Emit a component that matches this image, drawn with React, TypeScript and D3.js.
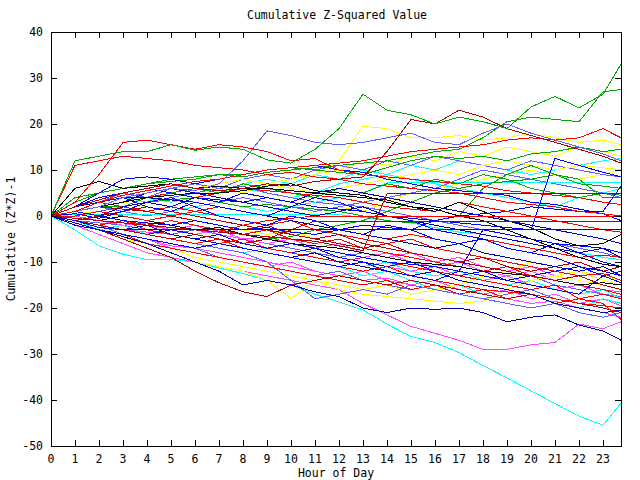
import React from "react";
import * as d3 from "d3";

// Time grid (hour of day)
const HOURS = [0, 1, 2, 3, 4, 5, 6, 7, 8, 9, 10, 11, 12, 13, 14, 15, 16, 17, 18, 19, 20, 21, 22, 23, 23.75];
const X_TICKS = [0, 1, 2, 3, 4, 5, 6, 7, 8, 9, 10, 11, 12, 13, 14, 15, 16, 17, 18, 19, 20, 21, 22, 23];
const Y_TICKS = [40, 30, 20, 10, 0, -10, -20, -30, -40, -50];

const TITLE = "Cumulative Z-Squared Value";
const X_LABEL = "Hour of Day";
const Y_LABEL = "Cumulative (Z*Z)-1";

// Series values (cumulative z^2-1) read at each hour
const g1 = [0, 12, 13, 14, 14, 15.5, 14.3, 15, 14.5, 12.2, 11.5, 14.5, 19, 26.5, 23, 22, 20, 21.5, 20.5, 19, 23.7, 26, 23.5, 26.5, 33];
const g2 = [0, 4, 5, 6, 7, 7.5, 8, 9, 8.5, 9.5, 10, 10.5, 11, 11.5, 12, 13, 14, 14.5, 17, 20.5, 21.5, 21, 20.5, 27, 27.5];
const r1 = [0, 3, 9, 16, 16.5, 15.5, 14.5, 15.5, 15, 14, 12, 12.5, 10, 9, 8.5, 8, 7.5, 7, 6.5, 5.5, 5, 4.5, 4, 3, 2.5];
const r3 = [0, 11, 12, 13, 12.5, 12, 11, 10.5, 10, 9, 9.5, 8.5, 8, 7, 6.5, 6, 5.5, 5, 4, 3, 2.5, 2, 1, 0.5, 0];
const r2 = [0, 1, 3, 4.5, 5.5, 6.5, 7.5, 8, 9, 10, 10.5, 11, 11.5, 12, 13, 14, 14.5, 15, 15.5, 16.5, 17, 16.5, 17, 19, 17];
const dr1 = [0, 2, 3.5, 5, 6, 7, 6, 5.5, 6, 7, 6.5, 7.5, 8, 8.5, 14, 21, 20, 23, 21.5, 19, 17.5, 16, 14.5, 13, 11.5];
const lb1 = [0, 1, 2, 4, 5, 6, 5.5, 7, 12, 18.5, 17.5, 16, 15.5, 16, 17, 18, 16, 15.5, 18, 20, 18, 16.5, 15, 13.5, 12];
const g3 = [0, 3, 5, 6, 7, 8, 8.5, 9, 9, 10, 10.5, 10, 9.5, 9, 10.5, 12, 13, 12.5, 13, 12, 13.5, 14, 15, 14, 14.5];
const g4 = [0, 1, 2, 2, 3, 3.5, 4, 3, 2, 2.5, 2, 1.5, 1, 0, -1, -1.5, -1, 0, 6, 9, 11, 9, 8, 4, 4];
const g5 = [0, -0.5, -1, -1.5, -2, -2.5, -3, -3.5, -4, -5, -4.5, -3, -2, -1, 1, 3, 5, 6, 7, 7.5, 8, 9, 7, 6.5, 6];
const g6 = [0, 2, 3, 2, 4, 5, 6, 5, 7, 6, 5, 4, 6, 5, 7, 6, 8, 7, 9, 8, 6, 5, 4, 5, 4.5];
const k1 = [0, 6, 7.5, 6, 6.5, 7, 6, 6.5, 6, 6, 5.5, 5, 4.5, 4, 3.5, 2, 1.5, 0, -1, -3, -5, -7, -9, -10.5, -11];
const k2 = [0, 1, 2, 3, 4, 4.5, 5, 5, 5.5, 6.5, 7, 5.5, 5, 4.5, 3, 2, 1, 3, 1, -1, -2.5, -5, -6.5, -6, -4];
const k3 = [0, -0.5, -1, 0, -1, -2, -3, -2.5, -4, -5, -6, -6.5, -7, -8, -9, -10, -10.5, -11, -12, -12.5, -13, -14, -15, -14.5, -15];
const b1 = [0, 2, 4, 5, 6, 5, 4, 3.5, 3, 4, 3, 2, 1.5, 1, 0, -0.5, -1, -1.5, -2, -2.5, -3, 12.5, 11, 9.5, 8.5];
const b2 = [0, -1, -2.5, -3, -3, -3, -3, -3, -3, -3, -3, -3, -3, -3, -3, -3, -3, -3, -3, -3, -3, -3, -3, -3, -3];
const b3 = [0, 2, 5, 8, 8.5, 8, 7, 8, 9, 10, 10.5, 11, 10, 9.5, 8, 7, 6, 5.5, 5, 4.5, 3, 2.5, 1.5, 0.5, -1];
const b4 = [0, -1, -2, -3, -4, -3, -4, -5, -6, -7, -6, -7, -8, -9, -10, -10.5, -11, -12, -3, -4, -5, -6, -6.5, -7, -8];
const b5 = [0, 1, 0, -1, -1.5, -2, -1, -2, -3, -2.5, -3.5, -4, -3, -2, -2.5, -3, -1, 0, 0.5, 1, 2, 1.5, 1, 1, 6.5];
const b6 = [0, -2, -3, -4, -5, -6, -7, -6, -7, -8, -9, -10, -11, -10, -12, -13, -14, -12, -13, -14, -15, -16, -17, -13, -14.5];
const b7 = [0, 1, 3, 4, 2, 1, 3, 2, 1, 0, 2, 4, 3, 1, 0, -1, -3, -4, -5, -7, -8, -9, -11, -12, -13];
const b8 = [0, 0.5, -0.5, 1, 3, 4, 2, 0, -1, -2, 0, -1, -3, -4, -2, -3, -5, -6, -5, -7, -8, -6, -8, -10, -11];
const b9 = [0, -1, -2, -1, -3, -4, -5, -4, -6, -7, -8, -7, -9, -10, -11, -10, -12, -13, -12, -14, -13, -12, -11, -13, -12];
const d1 = [0, -1.5, -3, -4.5, -6, -8, -10, -12, -15, -14, -15, -16.5, -17.5, -20, -21, -20, -20.3, -20, -21, -23, -22, -21.5, -23.7, -25, -27];
const d2 = [0, 1, 2, 3, 5, 6, 5, 4, 3, 2, 1, 0, 1, 2, 0, -1, -2, -3, -4, -5, -6, -7, -8, -7, -9];
const d3s = [0, -1, -2, -3, -2, -4, -5, -6, -7, -8, -9, -8, -10, -11, -12, -13, -12, -14, -15, -16, -17, -19, -20, -21, -20.5];
const d4 = [0, 2, 3, 4, 4, 3.5, 3, 2, 1, 0, -1, -2, -3, -4, -5, -6, -7, -6, -8, -9, -10, -11, -12, -11, -13];
const d5 = [0, 1, 0, 2, 3, 2, 4, 3, 5, 4, 3, 5, 6, 5, 4, 3, 2, 1, 0, -1, -2, -3, -4, -5, -6];
const lb2 = [0, -1, -2, -3, -4, -5, -6, -7, -8, -10, -14, -18, -17, -16, -17, -15, -16, -17, -18, -17, -16, -18, -19, -20, -21];
const lb3 = [0, 1, 2, 1, 0, 1, 2, 3, 4, 3, 2, 1, 2, 3, 4, 5, 6, 8, 10, 9, 8, 7, 6, 5, 4];
const lb4 = [0, -1, -1.5, -2, -3, -4, -3, -4, -5, -6, -7, -8, -9, -8, -9, -10, -11, -12, -13, -14, -13, -15, -16, -17, -17.5];
const lb5 = [0, 0, 1, 2, 3, 4, 5, 6, 6.5, 5, 4, 3, 2.5, 2, 1, 0, -1, -2, -3, -4, -5, -6, -7, -8, -9];
const lb6 = [0, 2, 3, 5, 4, 6, 7, 6, 8, 9, 8, 10, 11, 10, 12, 11, 13, 12, 11, 10, 12, 11, 10, 9, 8.5];
const lb7 = [0, -1, -2, -4, -5, -6, -7, -9, -10, -11, -12, -13, -12, -14, -15, -16, -15, -17, -18, -19, -20, -19, -21, -22, -21];
const rf = [0, -0.5, -1, -1.5, -2, -2.5, -3, -3.5, -2, -1, -0.5, 0, 0, 0, 0, 0, 0, 0, 0, 0, 0, 0, 0, 0, 0];
const r4 = [0, -1, -2, -3, -4, -5, -6, -5, -7, -8, -9, -10, -11, -12, -11, -13, -14, -15, -16, -16.5, -17, -18, -19, -19.5, -20];
const r5 = [0, 1, 0, -1, -2, -1, -2, -3, -4, -3, -5, -6, -5, -7, -8, -9, -10, -11, -12, -11, -13, -14, -15, -16, -17];
const r6 = [0, 2, 3, 2, 1, 2, 1, 0, -1, -2, -1, -3, -4, -5, -6, -5, -7, -8, -9, -10, -11, -12, -13, -12.5, -14];
const r7 = [0, -1, -2, -1, -3, -4, -5, -6, -5, -7, -8, -9, -10, -9, -10, -11, -12, -13, -14, -15, -16, -15, -18, -19, -22.5];
const r8 = [0, 1, 2, 3, 4, 5, 4, 5, 6, 5.5, 5, 4.5, 4, 3, 2, 1.5, 1, 3, 2, 1, 0, -1, -2, -3, -3.5];
const r9 = [0, 0, 1, 0, -1, 0, 1, 2, 1, 0, -1, -2, -3, -4, -5, -4, -5, -6, -5, -6, -7, -8, -9, -8.5, -9];
const r10 = [0, -2, -3, -4, -6, -7, -8, -9, -10, -11, -12, -13, -14, -15, -14, -16, -15, -17, -16, -18, -17, -19, -18, -17, -18];
const drf1 = [0, -1, -2, -3, -4, -5, -4, -5, -6, -5, -3, -1.1, -1.1, -1.1, -1.1, -1.1, -1.1, -1.1, -1.1, -1.1, -1.1, -1.1, -1.1, -1.1, -1.1];
const drf2 = [0, -0.5, -1, -1.5, -2, -2.5, -3, -3.5, -4, -4.5, -5, -5.5, -6.5, -7.5, 4.8, 4.8, 4.8, 4.8, 4.8, 4.8, 4.8, 4.8, 4.8, 4.8, 4.8];
const dr2 = [0, -1.5, -3, -5, -7, -9, -12, -14.5, -16.5, -17.5, -15, -14, -13, -14, -15, -14, -15, -16, -17, -18, -17, -18, -19, -20, -21];
const dr3 = [0, 1, 2, 1.5, 1, 0, -1, -2, -3, -2, -4, -5, -6, -7, -6, -8, -9, -10, -11, -12, -13, -14, -13, -15, -16];
const dr4 = [0, -1, 0, 1, 2, 1, 0, -1, -2, -3, -4, -5, -4, -6, -7, -8, -9, -10, -9, -11, -12, -11, -10, -12, -11];
const y1 = [0, 1, 2, 3, 4, 5, 6, 5, 6, 7, 8, 9, 12, 19.5, 19, 17, 17, 17.5, 16.5, 17, 18, 17, 16, 16.5, 15.5];
const y2 = [0, 2, 4, 5, 6, 7, 6, 7, 8, 7, 6, 5, 6, 7, 8, 9, 10, 9, 11, 12, 11, 10, 11, 10.5, 10];
const y3 = [0, -1.5, -3, -4.5, -6, -8, -10, -11, -12, -14, -18, -14, -16, -17, -17.5, -18, -18.5, -19, -18.5, -16, -14, -13, -14, -15, -16];
const y4 = [0, 0.5, 1, 0, -1, -2, -1, -2, -3, -4, -3, -5, -6, -7, -6, -8, -9, -10, -11, -12, -10, -11, -12, -13, -14];
const y5 = [0, 1, 2, 3, 2, 1, 0, -1, -2, -1, 0, 1, 2, 1, 3, 5, 6, 7, 8, 9, 10, 9, 8, 9, 10];
const y6 = [0, 1, 3, 2, 4, 5, 4, 6, 5, 7, 8, 9, 10, 12, 11, 13, 12, 14, 13, 15, 14, 13, 15, 14, 13];
const y7 = [0, -2, -3, -5, -6, -7, -9, -10, -11, -12, -13, -14, -15, -16, -15, -17, -16, -15, -13, -12, -14, -13, -12, -14, -15];
const c1 = [0, -3, -6.5, -8.3, -9.5, -9.5, -10, -11.3, -12.5, -14, -15, -17, -18.7, -20.4, -23.5, -26.2, -27.5, -29.7, -32.5, -35.2, -38, -40.8, -43.5, -45.5, -40.7];
const cf = [0, 0.3, 0.3, 0.3, 0.3, 0.3, 0.3, 0.3, 0.3, 0.3, 0.3, 0.3, 0.3, -0.3, -1, -1.5, -2.5, -3.5, -4, -5, -6, -7, -8, -9, -9.5];
const c2 = [0, -1, 0, 1, 2, 1, 2, 3, 2, 1, 2, 3, 4, 5, 7.2, 7.2, 7.2, 7.2, 7.2, 7.2, 7.2, 7.2, 7.2, 7.2, 7.2];
const c3 = [0, -1, -2, -3, -4, -5, -6, -7, -8, -7, -8, -9, -10, -11, -10, -12, -13, -12, -14, -15, -14, -16, -17, -16, -18];
const c4 = [0, 1, 2, 3, 4, 3, 4, 5, 6, 5, 4, 5, 7, 8, 9, 8, 7, 6, 5, 4, 3, 2, 4, 5, 6];
const c5 = [0, 1, 2, 4, 3, 5, 6, 5, 7, 8, 7, 9, 8, 10, 9, 11, 10, 12, 11, 10, 9, 10, 11, 12, 12.5];
const c6 = [0, -1, -3, -2, -4, -5, -6, -5, -7, -8, -9, -10, -11, -13, -12, -14, -16, -15, -17, -18, -17, -19, -20, -18, -19];
const m1 = [0, -2, -4, -6, -8, -9, -10, -11, -12, -13, -14, -15, -16, -19, -21.5, -24, -25.5, -27, -29, -29, -28, -27.5, -23.5, -24.5, -23];
const m2 = [0, -1.5, -3, -4, -5, -6.5, -7, -8, -9, -10, -11, -12, -13, -14, -13.5, -15, -16, -17, -16, -18, -19, -18.5, -20, -21, -22];
const m3 = [0, -1, -2, -3, -3.5, -4, -5, -6, -5, -7, -8, -7, -9, -10, -11, -12, -11, -13, -14, -13, -15, -16, -15, -17, -18];
const m4 = [0, -0.5, -1, -2, -1.5, -3, -4, -3, -5, -6, -5, -7, -8, -9, -8, -10, -11, -10, -12, -13, -12, -14, -15, -16, -16.5];
const m5 = [0, 0, -1, -1.5, -2, -3, -2, -4, -5, -4.5, -6, -7, -6, -8, -9, -8, -10, -9, -11, -12, -11, -13, -12, -14, -15];
const m6 = [0, -1, -3, -4, -5, -7, -8, -9, -10, -11, -10, -12, -13, -12, -14, -15, -14, -16, -17, -16, -18, -17, -19, -18, -19.5];

// Colors (gnuplot-like palette)
const RED = "#ff0000";
const GREEN = "#00a800";
const BLUE = "#0000ff";
const DBLUE = "#0000a8";
const LBLUE = "#6060ff";
const MAGENTA = "#ff48ff";
const CYAN = "#00ffff";
const YELLOW = "#ffff00";
const DRED = "#b00000";
const BLACK = "#000000";

const SERIES_LIST = [
  m1, c1, y3, m2, lb4, c3, m3, y4, m4, m5, m6, c6, y7, lb7, r10, b9, lb2, dr2, r4, r5, r7, d3s, b6,
  y5, y6, c4, c5, lb3, lb5, lb6, y2, y1, c2, cf, g5, g6, g4, g3, g2,
  k3, r6, r9, dr3, dr4, d4, d2, d5, b8, b7, b4, b5, r8, b3, b1, k2, k1, lb1,
  r2, r3, r1, dr1, rf, drf1, drf2, b2, d1, g1,
];
const SERIES_COLORS = [
  MAGENTA, CYAN, YELLOW, MAGENTA, LBLUE, CYAN, MAGENTA, YELLOW, MAGENTA, MAGENTA, MAGENTA, CYAN, YELLOW, LBLUE, RED, BLUE, LBLUE, DRED, RED, RED, RED, DBLUE, BLUE,
  YELLOW, YELLOW, CYAN, CYAN, LBLUE, LBLUE, LBLUE, YELLOW, YELLOW, CYAN, CYAN, GREEN, GREEN, GREEN, GREEN, GREEN,
  BLACK, RED, RED, DRED, DRED, DBLUE, DBLUE, DBLUE, BLUE, BLUE, BLUE, BLUE, RED, BLUE, BLUE, BLACK, BLACK, LBLUE,
  RED, RED, RED, DRED, RED, DRED, DRED, BLUE, DBLUE, GREEN,
];

const W = 640;
const H = 480;
const PL = 51, PR = 621, PT = 32, PB = 446;
const FONT = "'DejaVu Sans Mono', 'Liberation Mono', monospace";

export default function App() {
  const x = d3.scaleLinear().domain([0, 23.75]).range([PL, PR]);
  const y = d3.scaleLinear().domain([-50, 40]).range([PB, PT]);
  const line = d3
    .line<number>()
    .x((_, i) => x(HOURS[i]))
    .y((d) => y(d));
  const tl = 6;
  return (
    <svg
      width={W}
      height={H}
      style={{ position: "absolute", left: 0, top: 0, background: "#fff" }}
      fontFamily={FONT}
    >
      <rect x={0} y={0} width={W} height={H} fill="#fff" />
      <defs>
        <clipPath id="plot">
          <rect x={PL} y={PT} width={PR - PL} height={PB - PT} />
        </clipPath>
      </defs>
      <g clipPath="url(#plot)">
        {SERIES_LIST.map((s, i) => (
          <path
            key={i}
            d={line(s) || ""}
            fill="none"
            stroke={SERIES_COLORS[i]}
            strokeWidth={1}
            shapeRendering="crispEdges"
          />
        ))}
      </g>
      <g shapeRendering="crispEdges" stroke="#000" strokeWidth={1}>
        <rect x={PL} y={PT} width={PR - PL} height={PB - PT} fill="none" />
        {X_TICKS.map((t) => (
          <g key={"xt" + t}>
            <line x1={x(t)} x2={x(t)} y1={PB} y2={PB - tl} />
            <line x1={x(t)} x2={x(t)} y1={PT} y2={PT + tl} />
          </g>
        ))}
        {Y_TICKS.map((t) => (
          <g key={"yt" + t}>
            <line x1={PL} x2={PL + tl} y1={y(t)} y2={y(t)} />
            <line x1={PR} x2={PR - tl} y1={y(t)} y2={y(t)} />
          </g>
        ))}
      </g>
      <g fontSize={11.5} fill="#000">
        {X_TICKS.map((t) => (
          <text key={"xl" + t} x={x(t)} y={PB + 17} textAnchor="middle">
            {t}
          </text>
        ))}
        {Y_TICKS.map((t) => (
          <text key={"yl" + t} x={PL - 8} y={y(t) + 4} textAnchor="end">
            {t}
          </text>
        ))}
        <text x={337} y={19} textAnchor="middle">
          {TITLE}
        </text>
        <text x={336} y={477} textAnchor="middle">
          {X_LABEL}
        </text>
        <text x={15} y={239} textAnchor="middle" transform="rotate(-90 15 239)">
          {Y_LABEL}
        </text>
      </g>
    </svg>
  );
}
